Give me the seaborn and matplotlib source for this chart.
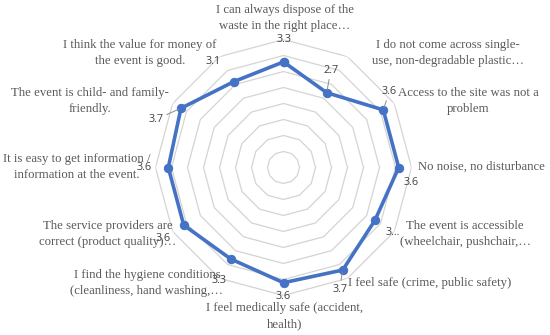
import numpy as np
import matplotlib
matplotlib.use("Agg")
import matplotlib.pyplot as plt
import seaborn as sns

# categories, clockwise from the top
categories = [
    "I can always dispose of the\nwaste in the right place…",
    "I do not come across single-\nuse, non-degradable plastic…",
    "Access to the site was not a\nproblem",
    "No noise, no disturbance",
    "The event is accessible\n(wheelchair, pushchair,…",
    "I feel safe (crime, public safety)",
    "I feel medically safe (accident,\nhealth)",
    "I find the hygiene conditions\n(cleanliness, hand washing,…",
    "The service providers are\ncorrect (product quality)…",
    "It is easy to get information /\ninformation at the event.",
    "The event is child- and family-\nfriendly.",
    "I think the value for money of\nthe event is good.",
]
scores = [3.3, 2.7, 3.6, 3.6, 3.3, 3.7, 3.6, 3.3, 3.6, 3.6, 3.7, 3.1]
score_labels = ["3.3", "2.7", "3.6", "3.6", "3...", "3.7", "3.6", "3.3", "3.6", "3.6", "3.7", "3.1"]
ring_levels = [0.5, 1.0, 1.5, 2.0, 2.5, 3.0, 3.5, 4.0]

W, H = 550, 335
BLUE = "#4472C4"

sns.set_style("white")
plt.rcParams["font.family"] = ["Liberation Serif", "DejaVu Serif"]

fig = plt.figure(figsize=(W / 100, H / 100), dpi=100)
cx, cy, R = 283.5, 167.5, 128
ax = fig.add_axes([(cx - R) / W, (H - cy - R) / H, 2 * R / W, 2 * R / H], projection="polar")
ax.set_theta_zero_location("N")
ax.set_theta_direction(-1)
ax.patch.set_alpha(0)

n = len(categories)
theta = np.linspace(0, 2 * np.pi, n, endpoint=False)
theta_closed = np.append(theta, 2 * np.pi)

# polygon grid rings
for lvl in ring_levels:
    ax.plot(theta_closed, [lvl] * (n + 1), color="#d4d4d4", lw=0.9, zorder=1)

sns.lineplot(x=theta_closed, y=scores + scores[:1], sort=False, ax=ax,
             color=BLUE, linewidth=2.6, marker="o", markersize=6,
             markeredgecolor=BLUE, zorder=3)

ax.set_ylim(0, 4)
ax.set_xticks([])
ax.set_yticks([])
ax.grid(False)
ax.spines["polar"].set_visible(False)
ax.set_xlabel("")
ax.set_ylabel("")

# data labels (offset in pixels from the point), some with leader lines
offsets = [(1, 22), (4, 22), (6, 18), (12, -15), (18, -12), (-3, -19),
           (0, -14), (-12, -22), (-21, -13), (-24, 0), (-25, -11), (-21, 20)]
leaders = [False, True, True, False, False, True, False, False, False, False, True, False]
for t, v, lab, (dx, dy), ld in zip(theta, scores, score_labels, offsets, leaders):
    kw = {}
    if ld:
        kw["arrowprops"] = dict(arrowstyle="-", color="#8c8c8c", lw=0.7, shrinkA=0, shrinkB=2)
    ax.annotate(lab, xy=(t, v), xytext=(dx, dy), textcoords="offset pixels",
                ha="center", va="center", fontsize=7.8, color="#404040",
                family=["Open Sans", "DejaVu Sans"], annotation_clip=False, **kw)

# category labels, positions in pixels
label_pos = [(285, 18), (448, 53), (468, 101), (481, 167), (465, 234), (430, 283),
             (285, 316), (147, 283), (108, 234), (77, 167), (90, 101), (140, 53)]
for txt, (px, py) in zip(categories, label_pos):
    fig.text(px / W, 1 - py / H, txt, ha="center", va="center", fontsize=9.2,
             color="#595959", linespacing=1.5, multialignment="center")

fig.savefig("out.png", dpi=100)
